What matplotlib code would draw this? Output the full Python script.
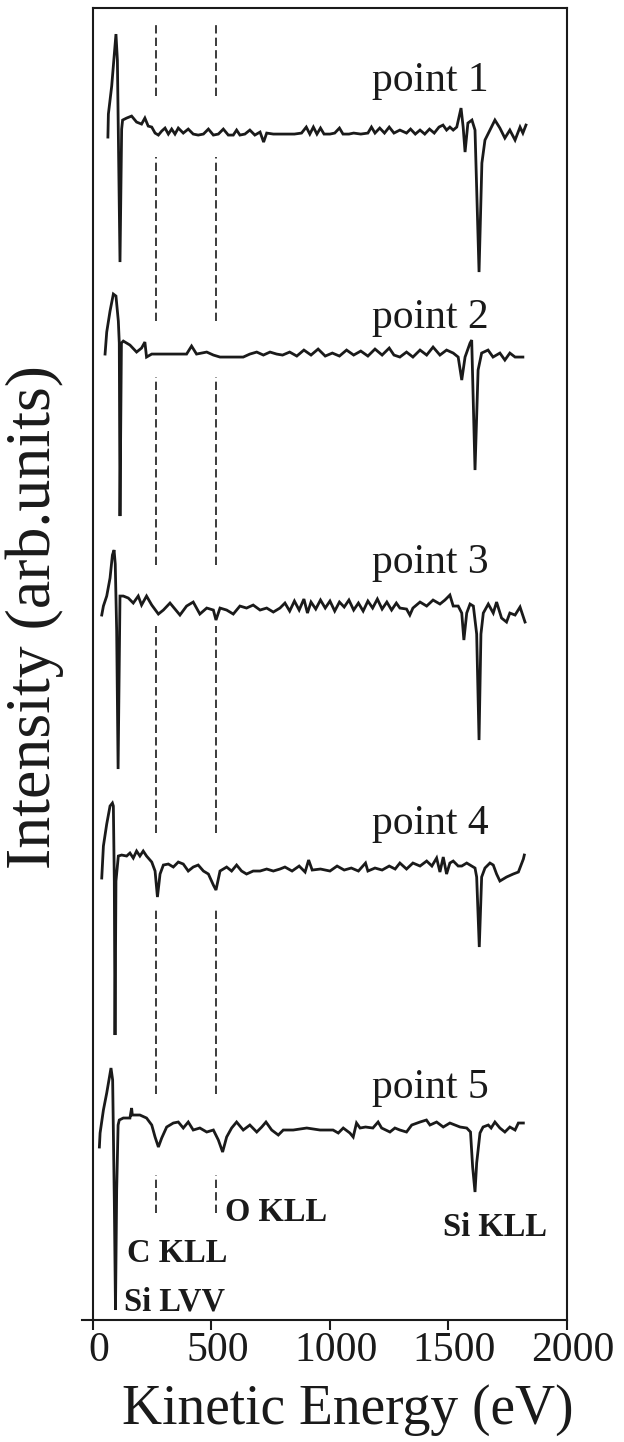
import matplotlib
matplotlib.use("Agg")
import matplotlib.pyplot as plt
import matplotlib.transforms as mtransforms

plt.rcParams['font.family'] = ['Liberation Serif', 'DejaVu Serif']

# kinetic energy (eV) and derivative intensity (arb. units, relative to each trace's baseline)
e1 = [63, 65, 79, 97, 103, 114, 121, 125, 142, 163, 184, 205, 219, 233, 248, 262, 276, 290,
      304, 318, 332, 346, 360, 381, 402, 423, 444, 466, 487, 508, 529, 550, 571, 592, 606,
      620, 641, 662, 683, 705, 720, 733, 761, 800, 850, 880, 900, 915, 930, 945, 960, 975,
      1000, 1020, 1040, 1055, 1080, 1100, 1130, 1160, 1175, 1190, 1210, 1230, 1250, 1270,
      1295, 1323, 1340, 1360, 1380, 1400, 1420, 1440, 1460, 1477, 1492, 1506, 1520, 1535,
      1553, 1562, 1570, 1582, 1599, 1612, 1629, 1641, 1654, 1675, 1696, 1717, 1738, 1759,
      1781, 1802, 1814, 1827]
i1 = [-6, 17, 45, 97, 71, -131, 2, 11, 13, 15, 9, 7, 13, 5, 4, -2, -4, 0,
      3, -3, 2, -3, 3, -2, 2, -3, -4, -3, 2, -4, -3, 2, -4, -4, 1,
      -4, -3, 1, -4, -1, -11, -2, -3, -3, -3, -2, 4, -3, 4, -3, 3, -3,
      -3, -2, 3, -3, -3, -2, -3, -2, 4, -2, 3, -2, 4, -2,
      1, -2, 2, -3, 1, -3, 2, -2, 4, 6, 1, 4, 1, 4,
      23, 4, -21, 8, 11, 1, -141, -32, -9, 1, 11, 3, -7, 1,
      -9, 4, -2, 6]

e2 = [51, 58, 72, 86, 97, 107, 111, 114, 120, 128, 156, 184, 205, 219, 226, 248, 395, 416,
      437, 480, 508, 536, 634, 662, 691, 719, 747, 775, 800, 830, 860, 890, 920, 950, 980,
      1010, 1040, 1070, 1100, 1130, 1160, 1190, 1220, 1250, 1270, 1295, 1323, 1350, 1380,
      1408, 1435, 1464, 1492, 1520, 1541, 1556, 1570, 1591, 1598, 1612, 1625, 1640, 1667,
      1688, 1717, 1738, 1759, 1781, 1814]
i2 = [-2, 20, 41, 58, 56, 31, 9, -164, 9, 11, 7, 0, 4, 10, -5, -2, -2, 6,
      -2, 0, -3, -5, -5, -2, 0, -3, 0, -2, -3, 0, -4, 2, -3, 3, -4,
      -1, -4, 2, -3, 1, -4, 3, -3, 4, -3, -5, 0, -5, 2,
      -3, 5, -3, 2, -1, -5, -28, -5, 9, 12, -118, -18, -1, 2,
      -5, -1, -8, -1, -5, -5]

e3 = [37, 44, 58, 72, 82, 89, 94, 100, 106, 114, 128, 149, 170, 191, 205, 226, 248, 276,
      297, 325, 367, 395, 423, 451, 480, 508, 519, 536, 564, 592, 620, 648, 676, 705, 733,
      761, 789, 810, 830, 850, 870, 890, 905, 920, 940, 960, 980, 1000, 1020, 1040, 1060,
      1080, 1100, 1120, 1140, 1160, 1180, 1200, 1220, 1240, 1260, 1280, 1295, 1323, 1337,
      1350, 1380, 1408, 1435, 1464, 1485, 1506, 1520, 1541, 1556, 1565, 1577, 1591, 1605,
      1619, 1629, 1637, 1647, 1668, 1689, 1703, 1724, 1745, 1759, 1781, 1802, 1823]
i3 = [-10, -1, 9, 27, 50, 55, 41, -26, -164, 9, 9, 7, 2, 9, 0, 9, 0, -9,
      -5, 2, -10, -1, 3, -9, -3, -5, -15, -3, -5, -9, -1, -3, 0, -5, -3,
      -7, -3, 2, -6, 4, -5, 6, -8, 3, -4, 5, -3, 4, -6, 3, -2,
      5, -5, 2, -6, 4, -3, 6, -4, 3, -5, 2, -3, -4, -10,
      -3, 3, -1, 5, 1, 5, 10, -1, -1, -8, -35, -8, 1, -1,
      -29, -135, -29, -8, 1, -8, 3, -13, -17, -8, -10, -2, -17]

e4 = [37, 44, 58, 72, 82, 86, 90, 93, 97, 107, 121, 142, 156, 170, 184, 198, 212, 226,
      248, 262, 272, 283, 297, 318, 339, 360, 381, 402, 423, 444, 466, 487, 508, 519, 536,
      564, 585, 606, 627, 648, 676, 705, 733, 761, 789, 810, 840, 870, 895, 910, 925, 960,
      1000, 1030, 1060, 1090, 1120, 1150, 1160, 1190, 1220, 1250, 1275, 1295, 1323, 1350,
      1380, 1408, 1430, 1450, 1464, 1478, 1492, 1506, 1520, 1541, 1556, 1577, 1612, 1619,
      1630, 1640, 1654, 1675, 1689, 1703, 1717, 1745, 1773, 1795, 1816, 1820]
i4 = [-12, 20, 42, 60, 63, 60, -15, -169, -15, 10, 11, 10, 13, 8, 15, 10, 15, 10,
      4, -5, -31, -8, 1, 2, -1, 4, 2, -5, -1, 1, -5, -8, -19, -24, -5,
      -1, -5, 1, -5, -8, -5, -5, -3, -5, -3, -1, -5, 0, -6, 6, -4, -3,
      -5, 0, -4, -2, -5, 3, -5, -2, -4, 0, -3, 3, -3, 3,
      0, 5, 0, 8, -6, 9, -8, 3, 5, 0, 0, 3, -2, -11,
      -81, -11, -2, 3, 1, -8, -15, -11, -8, -6, 7, 11]

e5 = [27, 30, 44, 58, 76, 83, 90, 95, 100, 106, 111, 128, 156, 163, 166, 198, 226, 248,
      262, 276, 290, 311, 339, 360, 381, 402, 423, 451, 480, 508, 529, 547, 564, 585, 606,
      634, 662, 691, 712, 730, 754, 782, 803, 845, 902, 958, 1013, 1035, 1056, 1084, 1098,
      1112, 1127, 1150, 1181, 1203, 1218, 1253, 1274, 1295, 1323, 1345, 1380, 1407, 1422,
      1450, 1478, 1506, 1549, 1577, 1593, 1602, 1612, 1619, 1633, 1646, 1668, 1680, 1696,
      1717, 1738, 1759, 1781, 1795, 1816]
i5 = [-17, -3, 20, 37, 62, 50, -70, -180, -60, 5, 10, 12, 12, 22, 15, 15, 12, 5,
      -7, -17, -8, 3, 7, 8, 2, 8, 0, 2, -2, 0, -10, -22, -7, 2, 8,
      0, 5, -2, 3, 8, 0, -5, 0, 0, 2, 0, 0, -3, 2, -3, -7,
      7, 2, 3, 2, 8, 2, -2, 2, 0, -2, 5, 8, 10, 5,
      8, 3, 7, 3, 2, -2, -37, -62, -33, -3, 3, 5, 2, 8,
      2, -2, 3, 0, 7, 7]

energies = [e1, e2, e3, e4, e5]
intensities = [i1, i2, i3, i4, i5]
offsets = [1189, 968, 715, 454, 190]
point_labels = ["point 1", "point 2", "point 3", "point 4", "point 5"]
label_dy = [40, 24, 32, 32, 32]

# reference lines for C KLL and O KLL, drawn in the gaps between the traces
ref_energies = [266, 518]
ref_segments = [(1299, 1224), (1163, 999), (943, 755), (694, 487), (412, 226), (145, 107)]

xticks = [0, 500, 1000, 1500, 2000]

ink = '#1a1a1a'

fig = plt.figure(figsize=(6.24, 14.42), dpi=100)
ax = fig.add_axes([0.149, 0.0846, 0.7596, 0.9098])

for e, inten, off in zip(energies, intensities, offsets):
    ax.plot(e, [off + v for v in inten], color=ink, lw=2.0, solid_joinstyle='miter')

for er in ref_energies:
    for top, bot in ref_segments:
        ax.plot([er, er], [bot, top], color=ink, lw=1.2, dashes=(5, 2.5))

for lab, off, dy in zip(point_labels, offsets, label_dy):
    ax.text(1177, off + dy, lab, fontsize=30, va='baseline', ha='left', color=ink)

ax.text(131, 10, "Si LVV", fontsize=23.5, fontweight='bold', va='baseline', color=ink)
ax.text(143, 58, "C KLL", fontsize=23.5, fontweight='bold', va='baseline', color=ink)
ax.text(557, 99, "O KLL", fontsize=23.5, fontweight='bold', va='baseline', color=ink)
ax.text(1477, 84, "Si KLL", fontsize=23.5, fontweight='bold', va='baseline', color=ink)

ax.set_xlim(0, 2000)
ax.set_ylim(0, 1312)
ax.set_xticks(xticks)
ax.set_xticklabels([str(t) for t in xticks])
ax.set_yticks([])
ax.tick_params(axis='x', direction='out', length=7, width=1.5, pad=1, labelsize=30,
               colors=ink)
# tick numbers in the original sit a little right of their ticks
shift = mtransforms.ScaledTranslation(6 / 100, 0, fig.dpi_scale_trans)
for lbl in ax.get_xticklabels():
    lbl.set_transform(lbl.get_transform() + shift)
for s in ax.spines.values():
    s.set_linewidth(1.5)
    s.set_color(ink)
# bottom axis line runs a little past the left frame
ax.plot([-47, 0], [0, 0], color=ink, lw=1.5, clip_on=False)

ax.set_xlabel("Kinetic Energy (eV)", fontsize=40, color=ink)
ax.xaxis.set_label_coords(0.538, -0.049)
ax.set_ylabel("Intensity (arb.units)", fontsize=46, color=ink)
ax.yaxis.set_label_coords(-0.062, 0.536)

fig.savefig("out.png", dpi=100)
